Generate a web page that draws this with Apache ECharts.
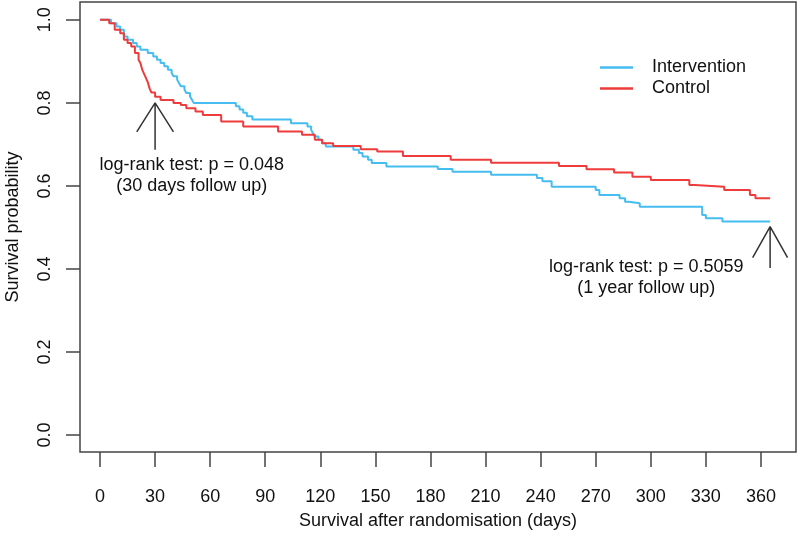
<!DOCTYPE html>
<html>
<head>
<meta charset="utf-8">
<script src="https://cdn.jsdelivr.net/npm/echarts@6/dist/echarts.min.js"></script>
<style>html,body{margin:0;padding:0;background:#fff}#c{width:800px;height:537px}</style>
</head>
<body>
<div id="c"></div>
<script>
// ---- data ----
const xTicks = [0, 30, 60, 90, 120, 150, 180, 210, 240, 270, 300, 330, 360];
const yTicks = [0, 0.2, 0.4, 0.6, 0.8, 1.0];
const seriesNames = ['Intervention', 'Control'];

const interventionDays = [0, 6, 9, 11, 13, 15, 18, 20, 22, 26, 29, 31, 33, 35, 37, 39, 40, 42, 43, 44, 46, 47, 49, 50, 51,
  74, 76, 78, 80, 83, 104, 113, 115, 116, 117, 119, 121, 123, 138, 141, 143, 146, 148, 156, 184, 192, 213, 238, 241, 246,
  270, 272, 283, 286, 288, 294, 328, 330, 339, 365];
const interventionSurv = [1.0, 0.992, 0.984, 0.976, 0.96, 0.952, 0.944, 0.936, 0.928, 0.92, 0.912, 0.904, 0.896, 0.888, 0.88, 0.872, 0.864, 0.856, 0.848, 0.84, 0.832, 0.824, 0.816, 0.808, 0.80,
  0.792, 0.784, 0.776, 0.768, 0.76, 0.751, 0.743, 0.735, 0.727, 0.719, 0.711, 0.703, 0.695, 0.687, 0.679, 0.671, 0.663, 0.655, 0.647, 0.641, 0.634, 0.627, 0.619, 0.611, 0.598,
  0.59, 0.578, 0.57, 0.562, 0.558, 0.55, 0.53, 0.522, 0.514, 0.514];

const controlDays = [0, 5, 8, 11, 13, 15, 17, 19, 21, 22, 23, 24, 25, 26, 27, 28, 30, 33, 40, 44, 47, 52, 56, 66, 78, 97,
  110, 117, 121, 127, 142, 151, 165, 191, 213, 250, 265, 280, 290, 300, 321, 324, 340, 354, 357, 365];
const controlSurv = [1.0, 0.992, 0.976, 0.968, 0.952, 0.944, 0.936, 0.92, 0.904, 0.896, 0.88, 0.87, 0.86, 0.85, 0.835, 0.825, 0.815, 0.807, 0.80, 0.795, 0.787, 0.779, 0.771, 0.755, 0.743, 0.731,
  0.723, 0.711, 0.703, 0.696, 0.688, 0.683, 0.672, 0.663, 0.656, 0.648, 0.64, 0.632, 0.622, 0.614, 0.602, 0.598, 0.59, 0.578, 0.57, 0.57];

// annotation arrows (data units): tip, left arm, right arm, shaft end
const arrow30 = { tip: [30, 0.80], left: [20, 0.73], right: [40, 0.73], end: [30, 0.687] };
const arrow365 = { tip: [365, 0.502], left: [355.5, 0.427], right: [374.5, 0.427], end: [365, 0.402] };
const note30 = ['log-rank test: p = 0.048', '(30 days follow up)'];
const note365 = ['log-rank test: p = 0.5059', '(1 year follow up)'];
const note30Pos = [50, 0.651];
const note365Pos = [297.5, 0.405];

// ---- chart ----
const FONT = '"Liberation Sans", Arial, Helvetica, sans-serif';
const TXT = '#111';
const chart = echarts.init(document.getElementById('c'), null, { renderer: 'canvas' });

function pairs(xs, ys) { return xs.map((x, i) => [x, ys[i]]); }
function arrowData(a) {
  return [a.left, a.tip, a.right, [null, null], a.tip, a.end];
}

const option = {
  animation: false,
  backgroundColor: '#fff',
  textStyle: { fontFamily: FONT },
  grid: { left: 80, right: 4, top: 2, bottom: 85, show: true, borderColor: '#444', borderWidth: 1.5,
    backgroundColor: 'transparent', containLabel: false, outerBoundsMode: 'none' },
  xAxis: {
    type: 'value', min: -10.9, max: 379.1,
    name: 'Survival after randomisation (days)', nameLocation: 'middle', nameGap: 60,
    nameTextStyle: { fontSize: 18, color: TXT, fontFamily: FONT },
    axisLine: { show: false, onZero: false },
    splitLine: { show: false },
    axisTick: { show: true, inside: false, length: 15, lineStyle: { color: '#444', width: 1.5 }, customValues: xTicks },
    axisLabel: { fontSize: 18, color: TXT, margin: 36, fontFamily: FONT, customValues: xTicks, formatter: v => String(v) }
  },
  yAxis: {
    type: 'value', min: -0.041, max: 1.043,
    name: 'Survival probability', nameLocation: 'middle', nameGap: 58,
    nameTextStyle: { fontSize: 18, color: TXT, fontFamily: FONT },
    axisLine: { show: false, onZero: false },
    splitLine: { show: false },
    axisTick: { show: true, inside: false, length: 14, lineStyle: { color: '#444', width: 1.5 }, customValues: yTicks },
    axisLabel: { fontSize: 18, color: TXT, margin: 26, rotate: 90, fontFamily: FONT, customValues: yTicks, formatter: v => v.toFixed(1) }
  },
  legend: {
    data: seriesNames,
    orient: 'vertical', left: 595, top: 52,
    itemWidth: 33, itemHeight: 2.5, itemGap: 0,
    icon: 'rect',
    textStyle: { fontSize: 18, color: TXT, fontFamily: FONT, lineHeight: 21, padding: [0, 0, 0, 14] }
  },
  series: [
    { name: 'Intervention', type: 'line', step: 'end', showSymbol: false, symbol: 'none',
      lineStyle: { color: '#45BDF0', width: 2 }, itemStyle: { color: '#45BDF0' },
      data: pairs(interventionDays, interventionSurv) },
    { name: 'Control', type: 'line', step: 'end', showSymbol: false, symbol: 'none',
      lineStyle: { color: '#EE3B3B', width: 2 }, itemStyle: { color: '#EE3B3B' },
      data: pairs(controlDays, controlSurv) },
    { name: 'arrow30', type: 'line', showSymbol: false, symbol: 'none', silent: true, connectNulls: false,
      lineStyle: { color: '#333', width: 1.5 }, data: arrowData(arrow30) },
    { name: 'arrow365', type: 'line', showSymbol: false, symbol: 'none', silent: true, connectNulls: false,
      lineStyle: { color: '#333', width: 1.5 }, data: arrowData(arrow365) }
  ]
};
chart.setOption(option);

function noteGraphic(lines, pos) {
  const p = chart.convertToPixel({ gridIndex: 0 }, pos);
  return lines.map((t, i) => ({
    type: 'text', x: p[0], y: p[1] + i * 21,
    style: { text: t, fontSize: 18, fontFamily: FONT, fill: TXT, align: 'center', verticalAlign: 'middle' }
  }));
}
chart.setOption({ graphic: [].concat(noteGraphic(note30, note30Pos), noteGraphic(note365, note365Pos)) });
</script>
</body>
</html>
